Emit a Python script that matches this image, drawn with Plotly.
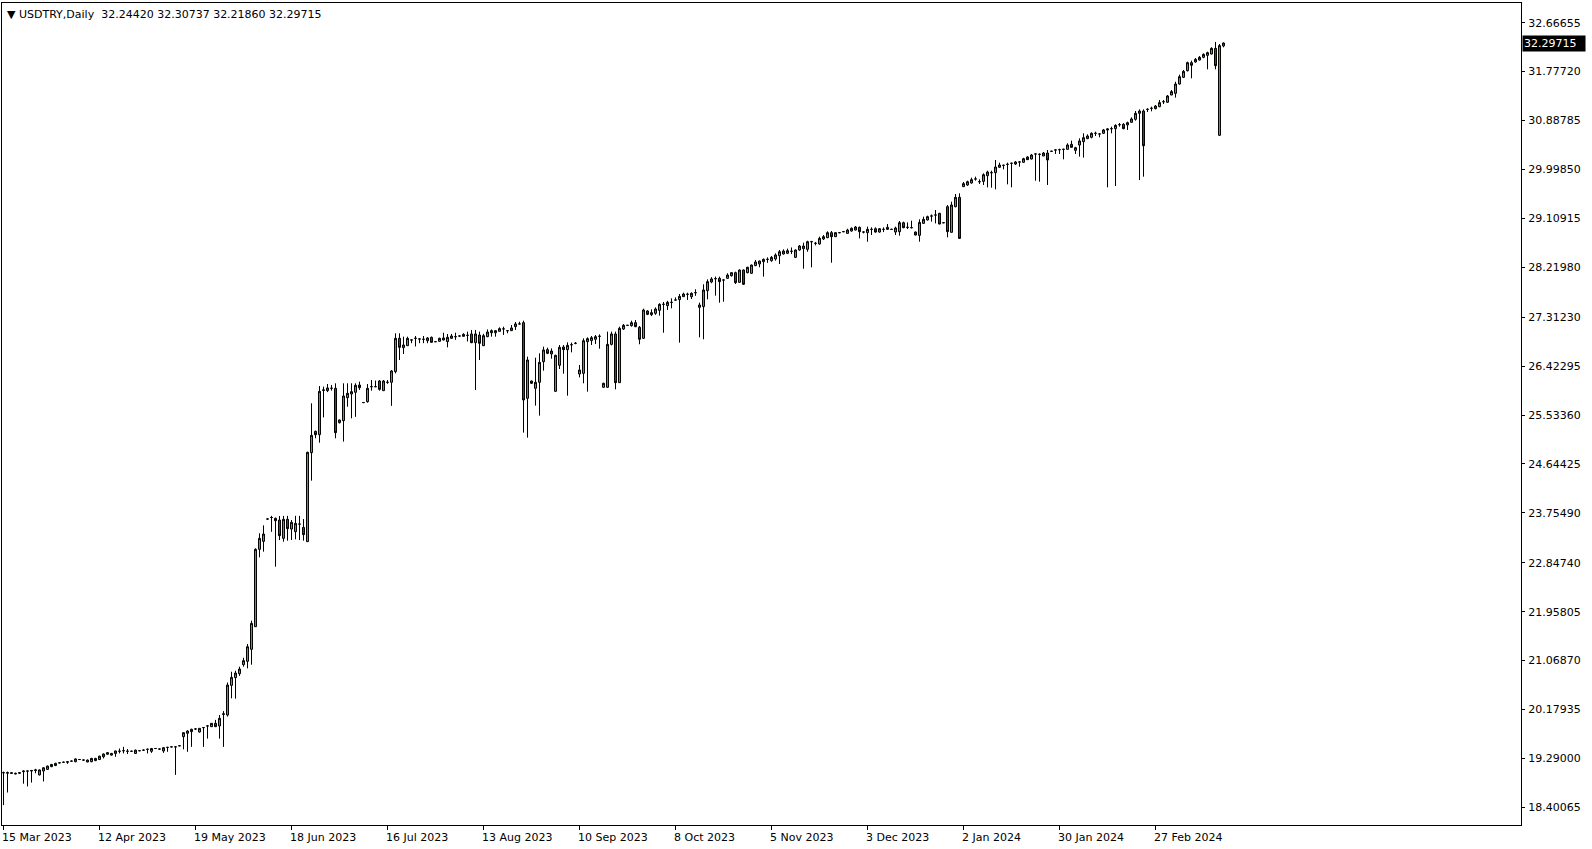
import plotly.graph_objects as go

# ---------------- data ----------------
opens = [
 19.03,19.02,19.03,19.02,19.02,19.05,19.06,19.06,19.07,18.99,
 19.06,19.09,19.14,19.16,19.21,19.22,19.22,19.24,19.23,19.27,
 19.26,19.225,19.23,19.25,19.27,19.32,19.365,19.35,19.38,19.42,
 19.43,19.42,19.42,19.38,19.43,19.44,19.455,19.42,19.47,19.46,
 19.425,19.49,19.50,19.50,19.52,19.685,19.746,19.776,19.825,19.77,
 19.85,19.88,19.867,19.928,19.88,20.09,20.079,20.618,20.758,20.83,
 20.994,21.055,21.273,21.685,23.091,23.236,23.643,23.67,23.655,23.624,
 23.291,23.637,23.46,23.412,23.55,23.49,23.231,24.849,25.237,25.176,
 25.98,25.976,26.02,26.019,25.394,25.43,25.849,25.915,25.946,26.079,
 25.76,25.776,26.049,26.049,26.152,25.976,26.128,26.128,26.322,26.928,
 26.758,26.794,26.898,26.928,26.916,26.91,26.885,26.946,26.867,26.873,
 26.898,26.867,26.928,26.958,26.97,26.964,26.982,27.007,26.849,26.988,
 26.794,26.958,27.03,27.03,27.055,27.10,27.067,27.067,27.14,27.19,
 27.213,25.837,26.152,26.019,26.128,26.503,26.722,26.643,25.964,26.437,
 26.77,26.722,26.812,26.837,26.279,26.291,26.867,26.885,26.91,26.964,
 26.037,26.037,26.818,27.007,26.122,27.097,27.164,27.158,27.213,27.128,
 26.928,27.425,27.358,27.382,27.437,27.546,27.522,27.582,27.625,27.631,
 27.685,27.728,27.685,27.758,27.491,27.504,27.794,27.952,28.013,28.019,
 27.988,28.019,28.067,28.122,27.946,28.17,28.122,28.11,28.25,28.28,
 28.321,28.364,28.339,28.37,28.43,28.461,28.473,28.51,28.40,28.534,
 28.558,28.546,28.685,28.655,28.643,28.734,28.758,28.849,28.776,28.849,
 28.867,28.836,28.879,28.897,28.946,28.86,28.849,28.909,28.921,28.86,
 28.909,28.909,28.909,28.861,28.867,29.03,28.946,28.94,28.861,28.80,
 29.018,29.079,29.152,29.17,29.2,29.03,29.321,28.855,29.321,29.491,
 29.685,29.716,29.752,29.825,29.776,29.782,29.885,29.94,29.94,30.037,
 30.073,30.091,30.11,30.097,30.134,30.128,30.225,30.188,30.28,30.273,
 30.243,30.297,30.328,30.352,30.358,30.364,30.364,30.455,30.346,30.443,
 30.504,30.558,30.583,30.655,30.643,30.655,30.716,30.74,30.74,30.813,
 30.819,30.807,30.855,30.91,31.019,31.061,31.091,31.11,31.104,31.14,
 31.23,31.219,31.352,31.382,31.552,31.673,31.794,31.94,31.952,31.988,
 32.037,32.073,32.097,32.2,30.619,32.2442,
]
highs = [
 19.05,19.05,19.04,19.03,19.04,19.07,19.07,19.08,19.10,19.09,
 19.13,19.16,19.19,19.21,19.22,19.23,19.24,19.25,19.29,19.28,
 19.27,19.27,19.30,19.30,19.34,19.38,19.40,19.39,19.43,19.47,
 19.50,19.46,19.43,19.45,19.44,19.45,19.47,19.48,19.48,19.47,
 19.49,19.50,19.51,19.51,19.53,19.76,19.80,19.83,19.84,19.84,
 19.86,19.89,19.93,19.99,20.08,20.15,20.67,20.866,20.885,20.958,
 21.12,21.37,21.794,23.11,23.382,23.527,23.65,23.70,23.67,23.697,
 23.70,23.70,23.624,23.70,23.70,23.642,24.867,25.746,25.25,26.06,
 26.05,26.097,26.08,26.11,25.45,26.11,26.11,26.11,26.11,26.14,
 25.77,26.097,26.17,26.16,26.17,26.17,26.17,26.352,27.019,27.019,
 26.958,26.958,26.91,26.97,26.93,26.97,26.95,26.96,26.88,26.94,
 27.03,27.007,27.007,27.03,26.98,27.02,27.05,27.08,27.08,27.05,
 27.01,27.09,27.09,27.08,27.128,27.14,27.08,27.17,27.225,27.23,
 27.249,26.594,26.16,26.576,26.655,26.776,26.758,26.745,26.63,26.806,
 26.806,26.855,26.85,26.86,26.443,26.928,26.946,26.97,26.988,27.0,
 26.12,27.049,27.049,27.049,27.14,27.188,27.17,27.249,27.26,27.152,
 27.467,27.44,27.455,27.49,27.564,27.589,27.61,27.655,27.673,27.734,
 27.758,27.758,27.764,27.82,27.577,27.91,28.0,28.04,28.05,28.05,
 28.0,28.11,28.134,28.14,28.18,28.18,28.23,28.27,28.352,28.34,
 28.38,28.40,28.424,28.473,28.534,28.546,28.558,28.58,28.546,28.624,
 28.667,28.703,28.70,28.68,28.776,28.806,28.873,28.879,28.86,28.86,
 28.88,28.921,28.946,28.97,28.96,28.87,28.958,28.946,28.946,28.93,
 28.946,29.006,28.92,28.958,29.061,29.049,29.036,29.067,28.87,29.091,
 29.14,29.158,29.18,29.261,29.21,29.04,29.352,29.412,29.552,29.564,
 29.77,29.794,29.849,29.867,29.818,29.928,29.976,29.976,30.17,30.122,
 30.085,30.122,30.122,30.152,30.152,30.21,30.24,30.28,30.29,30.29,
 30.316,30.352,30.34,30.37,30.376,30.376,30.473,30.522,30.41,30.564,
 30.655,30.637,30.673,30.685,30.66,30.734,30.746,30.776,30.819,30.843,
 30.84,30.867,30.946,31.061,31.091,31.091,31.11,31.14,31.17,31.261,
 31.261,31.352,31.443,31.594,31.722,31.807,31.958,31.976,32.025,32.06,
 32.11,32.14,32.219,32.316,32.279,32.30737,
]
lows = [
 18.44,18.67,19.01,19.00,19.01,18.83,18.78,18.85,19.02,18.98,
 18.87,19.08,19.13,19.15,19.20,19.21,19.19,19.23,19.22,19.26,
 19.25,19.22,19.22,19.24,19.26,19.29,19.36,19.34,19.32,19.38,
 19.38,19.37,19.41,19.37,19.42,19.43,19.38,19.39,19.46,19.45,
 19.39,19.41,19.49,18.99,19.51,19.455,19.41,19.50,19.81,19.76,
 19.50,19.65,19.86,19.86,19.65,19.50,20.05,20.382,20.376,20.79,
 20.958,20.927,20.994,21.68,22.946,23.049,23.63,23.41,22.776,23.26,
 23.23,23.249,23.261,23.273,23.26,23.249,23.23,24.34,25.11,25.03,
 25.49,25.95,25.976,25.11,25.38,25.05,25.685,25.473,25.50,25.99,
 25.75,25.758,25.976,26.04,25.976,25.97,26.10,25.70,26.29,26.534,
 26.643,26.79,26.84,26.78,26.84,26.84,26.84,26.85,26.86,26.87,
 26.89,26.764,26.92,26.90,26.96,26.96,26.87,26.84,25.988,26.534,
 26.79,26.95,26.958,26.958,27.05,26.99,27.02,27.06,27.08,27.18,
 25.213,25.122,26.10,25.704,25.522,26.34,26.64,26.558,25.958,26.37,
 26.285,25.885,26.673,26.82,26.218,26.11,25.958,26.807,26.825,26.74,
 26.03,26.03,26.80,26.0,26.12,27.08,27.16,27.14,27.13,26.82,
 26.92,27.35,27.334,27.355,27.34,27.03,27.443,27.473,27.62,26.85,
 27.68,27.625,27.643,27.70,26.946,26.91,27.637,27.93,27.704,27.576,
 27.594,28.01,28.05,27.916,27.94,27.90,28.11,28.10,28.24,28.22,
 28.049,28.30,28.32,28.34,28.279,28.45,28.46,28.46,28.388,28.52,
 28.194,28.503,28.218,28.618,28.63,28.715,28.75,28.303,28.77,28.84,
 28.86,28.83,28.867,28.89,28.745,28.836,28.685,28.806,28.85,28.85,
 28.86,28.90,28.90,28.806,28.794,28.93,28.915,28.927,28.80,28.685,
 29.01,29.07,29.05,29.018,29.0,29.02,28.764,28.85,29.31,28.74,
 29.68,29.70,29.74,29.794,29.734,29.716,29.673,29.667,29.637,30.03,
 30.0,29.728,29.673,30.08,30.049,30.12,30.17,30.18,29.794,29.776,
 30.24,29.716,30.32,30.28,30.28,30.182,30.36,30.40,30.28,30.231,
 30.213,30.55,30.564,30.607,30.583,30.643,29.673,30.655,29.697,30.776,
 30.73,30.716,30.85,30.885,29.806,29.867,31.043,31.055,31.09,31.13,
 31.188,31.21,31.35,31.304,31.54,31.66,31.78,31.655,31.94,31.98,
 32.02,31.819,32.09,31.819,30.607,32.2186,
]
closes = [
 19.03,19.03,19.02,19.01,19.03,19.06,19.06,19.07,19.08,19.08,
 19.12,19.15,19.18,19.20,19.21,19.22,19.23,19.24,19.28,19.27,
 19.26,19.26,19.29,19.29,19.33,19.37,19.395,19.38,19.425,19.42,
 19.43,19.42,19.42,19.44,19.43,19.44,19.455,19.47,19.47,19.46,
 19.485,19.49,19.50,19.50,19.52,19.758,19.788,19.819,19.825,19.837,
 19.85,19.88,19.928,19.867,20.019,20.10,20.624,20.763,20.842,20.915,
 21.067,21.321,21.745,23.091,23.291,23.37,23.643,23.67,23.612,23.34,
 23.637,23.467,23.582,23.564,23.55,23.358,24.855,25.164,25.176,25.964,
 25.99,26.025,26.02,25.213,25.443,25.879,25.928,25.958,26.073,26.03,
 25.76,26.019,26.049,26.049,26.0,26.152,26.128,26.334,26.928,26.764,
 26.807,26.928,26.898,26.928,26.916,26.91,26.934,26.855,26.867,26.928,
 26.934,26.946,26.97,26.958,26.97,27.0,26.982,26.849,27.007,26.837,
 26.976,27.043,27.067,27.067,27.104,27.10,27.067,27.116,27.19,27.19,
 25.807,26.534,26.11,26.128,26.491,26.716,26.655,26.697,26.618,26.764,
 26.722,26.80,26.812,26.837,26.352,26.885,26.922,26.94,26.958,26.964,
 26.11,26.818,27.007,26.122,27.11,27.164,27.164,27.213,27.14,26.91,
 27.443,27.364,27.395,27.461,27.546,27.546,27.582,27.582,27.625,27.691,
 27.734,27.728,27.746,27.758,27.534,27.807,27.958,28.007,28.013,27.958,
 27.988,28.079,28.122,27.94,28.17,27.91,28.219,28.26,28.316,28.334,
 28.364,28.364,28.40,28.443,28.503,28.515,28.521,28.51,28.534,28.606,
 28.606,28.685,28.685,28.655,28.746,28.776,28.849,28.776,28.849,28.849,
 28.867,28.897,28.928,28.952,28.867,28.86,28.909,28.909,28.86,28.921,
 28.909,28.946,28.909,28.934,29.03,28.94,28.946,28.94,28.806,29.036,
 29.091,29.14,29.152,29.17,29.006,29.03,28.867,29.352,29.491,28.745,
 29.74,29.776,29.813,29.825,29.776,29.903,29.952,29.94,30.043,30.079,
 30.073,30.091,30.11,30.134,30.134,30.194,30.176,30.261,30.28,30.273,
 30.297,30.17,30.328,30.352,30.358,30.364,30.443,30.40,30.394,30.516,
 30.576,30.607,30.655,30.655,30.643,30.716,30.734,30.74,30.80,30.813,
 30.74,30.849,30.916,31.019,31.061,30.43,31.091,31.11,31.152,31.213,
 31.23,31.334,31.413,31.552,31.685,31.782,31.94,31.892,32.0,32.037,
 32.091,32.122,32.2,31.885,32.249,32.29715,
]

date_tick_bars = [0, 24, 48, 72, 96, 120, 144, 168, 192, 216, 240, 264, 288]
date_tick_labels = ["15 Mar 2023", "12 Apr 2023", "19 May 2023", "18 Jun 2023",
                    "16 Jul 2023", "13 Aug 2023", "10 Sep 2023", "8 Oct 2023",
                    "5 Nov 2023", "3 Dec 2023", "2 Jan 2024", "30 Jan 2024",
                    "27 Feb 2024"]
price_tick_labels = ["32.66655", "31.77720", "30.88785", "29.99850", "29.10915",
                     "28.21980", "27.31230", "26.42295", "25.53360", "24.64425",
                     "23.75490", "22.84740", "21.95805", "21.06870", "20.17935",
                     "19.29000", "18.40065"]
symbol = "USDTRY,Daily"
last_ohlc = ["32.24420", "32.30737", "32.21860", "32.29715"]

# ---------------- figure ----------------
FONT = "DejaVu Sans"
bars = list(range(len(closes)))

fig = go.Figure(go.Candlestick(
    x=bars, open=opens, high=highs, low=lows, close=closes,
    increasing=dict(line=dict(color="black", width=1), fillcolor="#1ED21E"),
    decreasing=dict(line=dict(color="black", width=1), fillcolor="#D21414"),
    whiskerwidth=0, hoverinfo="skip",
))

fig.update_layout(
    width=1592, height=849,
    margin=dict(l=2, r=71, t=3, b=24, pad=0),
    paper_bgcolor="white", plot_bgcolor="white",
    showlegend=False, boxgap=0.3,
    font=dict(family=FONT, size=11, color="black"),
    xaxis=dict(
        range=[-0.375, 379.375], rangeslider=dict(visible=False),
        showgrid=False, zeroline=False,
        showline=True, linecolor="black", linewidth=1, mirror=True,
        tickmode="array", tickvals=date_tick_bars, ticktext=[""] * len(date_tick_bars),
        ticks="outside", ticklen=4, tickcolor="black", tickwidth=1,
        showticklabels=False, fixedrange=True,
    ),
    yaxis=dict(
        side="right", range=[18.0791, 33.0247],
        showgrid=False, zeroline=False,
        showline=True, linecolor="black", linewidth=1, mirror=True,
        tickmode="array", tickvals=[float(s) for s in price_tick_labels],
        ticktext=price_tick_labels,
        ticks="outside", ticklen=3, tickcolor="black", tickwidth=1,
        ticklabelstandoff=1,
        tickfont=dict(family=FONT, size=11, color="black"),
        fixedrange=True,
    ),
)

# date labels, left-aligned at their tick like the terminal does
for b, lab in zip(date_tick_bars, date_tick_labels):
    fig.add_annotation(x=b, y=0, xref="x", yref="paper", text=lab,
                       showarrow=False, xanchor="left", yanchor="top",
                       xshift=-4, yshift=-4,
                       font=dict(family=FONT, size=11, color="black"))

# header
fig.add_annotation(x=0, y=1, xref="paper", yref="paper",
                   text="\u25BC\u00a0" + symbol + "\u00a0\u00a0" + " ".join(last_ohlc),
                   showarrow=False, xanchor="left", yanchor="top",
                   xshift=3, yshift=-3,
                   font=dict(family=FONT, size=11, color="black"))

# current price marker on the price scale
fig.add_annotation(x=1, y=float(last_ohlc[3]), xref="paper", yref="y",
                   text=last_ohlc[3], showarrow=False, xanchor="left",
                   yanchor="middle", xshift=1, bgcolor="black",
                   borderpad=1, width=60, align="left",
                   font=dict(family=FONT, size=11, color="white"))

fig.write_html("out.html", config={"displayModeBar": False},
               post_script="document.body.style.margin='0px';document.body.style.overflow='hidden';")
